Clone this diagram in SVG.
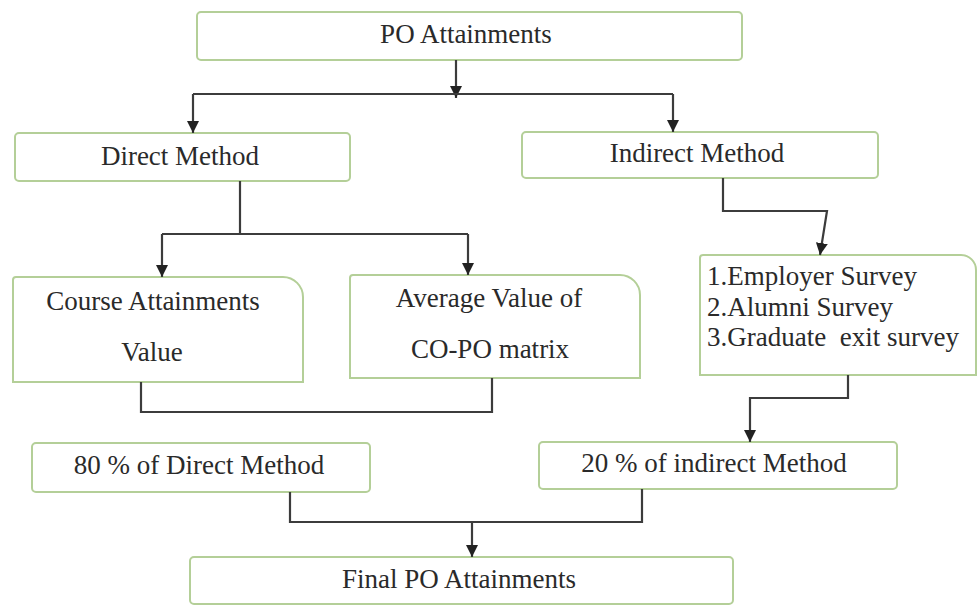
<svg xmlns="http://www.w3.org/2000/svg" width="978" height="606" viewBox="0 0 978 606">
  <style>
    .box { fill: #ffffff; stroke: #b4cf98; stroke-width: 2; }
    .lbl { font-family: 'Liberation Serif', 'DejaVu Serif', serif; font-size: 27px; fill: #2a2a2a; text-anchor: middle; }
    .lft { text-anchor: start; }
    .wire { fill: none; stroke: #3c3c3c; stroke-width: 2.2; }
  </style>
  <defs>
    <marker id="arrow" markerUnits="userSpaceOnUse" markerWidth="14" markerHeight="14" refX="12" refY="6" orient="auto">
      <path d="M0,0 L12,6 L0,12 Z" fill="#222222"/>
    </marker>
  </defs>
  <rect width="978" height="606" fill="#ffffff"/>

  <g id="po-attainments">
    <rect class="box" x="197" y="12" width="545" height="48" rx="4"/>
    <text class="lbl" x="466" y="43">PO Attainments</text>
  </g>

  <g id="direct-method">
    <rect class="box" x="15" y="133" width="335" height="48" rx="4"/>
    <text class="lbl" x="180" y="165">Direct Method</text>
  </g>

  <g id="indirect-method">
    <rect class="box" x="522" y="132" width="356" height="46" rx="4"/>
    <text class="lbl" x="697" y="162">Indirect Method</text>
  </g>

  <g id="course-attainments">
    <path class="box" d="M16,277 H283 A20,20 0 0 1 303,297 V382 H13 V280 A3,3 0 0 1 16,277 Z"/>
    <text class="lbl" x="153" y="310">Course Attainments</text>
    <text class="lbl" x="152" y="361">Value</text>
  </g>

  <g id="copo-average">
    <path class="box" d="M353,275 H620 A20,20 0 0 1 640,295 V378 H350 V278 A3,3 0 0 1 353,275 Z"/>
    <text class="lbl" x="489" y="307">Average Value of</text>
    <text class="lbl" x="490" y="358">CO-PO matrix</text>
  </g>

  <g id="surveys">
    <path class="box" d="M703,255 H961 A15,15 0 0 1 976,270 V375 H700 V258 A3,3 0 0 1 703,255 Z"/>
    <text class="lbl lft" x="707" y="285">1.Employer Survey</text>
    <text class="lbl lft" x="707" y="316">2.Alumni Survey</text>
    <text class="lbl lft" x="707" y="346" xml:space="preserve">3.Graduate  exit survey</text>
  </g>

  <g id="direct-share">
    <rect class="box" x="32" y="443" width="338" height="49" rx="4"/>
    <text class="lbl" x="199" y="474">80 % of Direct Method</text>
  </g>

  <g id="indirect-share">
    <rect class="box" x="539" y="442" width="358" height="47" rx="4"/>
    <text class="lbl" x="714" y="472">20 % of indirect Method</text>
  </g>

  <g id="final-po">
    <rect class="box" x="190" y="557" width="543" height="47" rx="4"/>
    <text class="lbl" x="459" y="588">Final PO Attainments</text>
  </g>

  <g id="connectors">
    <path class="wire" d="M456,60 V98" marker-end="url(#arrow)"/>
    <path class="wire" d="M193,94 H673"/>
    <path class="wire" d="M193,94 V133" marker-end="url(#arrow)"/>
    <path class="wire" d="M673,94 V132" marker-end="url(#arrow)"/>

    <path class="wire" d="M240,181 V234"/>
    <path class="wire" d="M162,234 H468"/>
    <path class="wire" d="M162,234 V277" marker-end="url(#arrow)"/>
    <path class="wire" d="M468,234 V275" marker-end="url(#arrow)"/>

    <path class="wire" d="M723,178 V211 H827 L820,255" marker-end="url(#arrow)"/>

    <path class="wire" d="M141,382 V412 H492 V378"/>

    <path class="wire" d="M848,375 V398 H750 V442" marker-end="url(#arrow)"/>

    <path class="wire" d="M290,492 V522 H642 V489"/>
    <path class="wire" d="M472,522 V557" marker-end="url(#arrow)"/>
  </g>
</svg>
